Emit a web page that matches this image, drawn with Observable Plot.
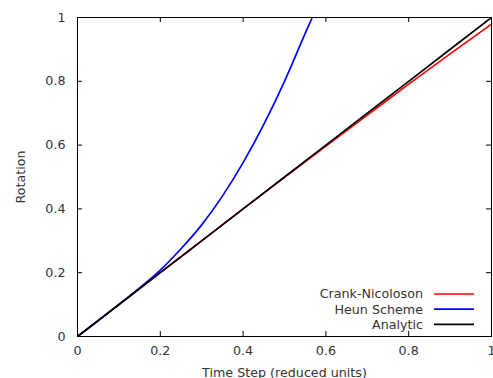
<!DOCTYPE html>
<html><head><meta charset="utf-8">
<script src="https://cdn.jsdelivr.net/npm/d3@7"></script>
<script src="https://cdn.jsdelivr.net/npm/@observablehq/plot@0.6"></script>
<style>body{margin:0;background:#fff} svg{display:block}</style>
</head><body><div id="chart"></div>
<script>
const series = ["Crank-Nicoloson", "Heun Scheme", "Analytic"];
const colors = ["#ff0000", "#0000ff", "#000000"];

const cnTime = [0, 0.1, 0.2, 0.3, 0.4, 0.5, 0.6, 0.7, 0.8, 0.9, 1.0];
const cnRot  = [0, 0.1, 0.2, 0.3, 0.4, 0.499, 0.597, 0.694, 0.791, 0.886, 0.979];

const heunTime = [0, 0.05, 0.1, 0.15, 0.2, 0.25, 0.3, 0.35, 0.4, 0.45, 0.5, 0.55, 0.567];
const heunRot  = [0, 0.05, 0.1005, 0.152, 0.208, 0.275, 0.35, 0.44, 0.545, 0.665, 0.8, 0.95, 1.0];

const anTime = [0, 0.2, 0.4, 0.6, 0.8, 1.0];
const anRot  = [0, 0.2, 0.4, 0.6, 0.8, 1.0];

const xTicks = [0, 0.2, 0.4, 0.6, 0.8, 1];
const yTicks = [0, 0.2, 0.4, 0.6, 0.8, 1];
const xTickLabels = ["0", "0.2", "0.4", "0.6", "0.8", "1"];
const yTickLabels = ["0", "0.2", "0.4", "0.6", "0.8", "1"];

const xLabel = "Time Step (reduced units)";
const yLabel = "Rotation";

const rows = [
  ...cnTime.map((t, i) => ({series: series[0], t, r: cnRot[i]})),
  ...heunTime.map((t, i) => ({series: series[1], t, r: heunRot[i]})),
  ...anTime.map((t, i) => ({series: series[2], t, r: anRot[i]}))
];

const W = 493, H = 378, mL = 77, mR = 2, mT = 17, mB = 42;
const innerH = H - mT - mB;
const innerW = W - mL - mR;
const font = "DejaVu Sans, sans-serif";
const fs = 12.7;
const textColor = "#333";

const plot = Plot.plot({
  width: W, height: H,
  marginLeft: mL, marginRight: mR, marginTop: mT, marginBottom: mB,
  style: {fontFamily: font, fontSize: fs + "px", color: textColor, background: "#fff", overflow: "visible"},
  x: {domain: [0, 1]},
  y: {domain: [0, 1]},
  color: {domain: series, range: colors},
  marks: [
    Plot.axisX({ticks: xTicks, tickFormat: d => xTickLabels[xTicks.indexOf(d)], tickSize: 0, tickPadding: 9, fontSize: fs, label: xLabel, labelAnchor: "center", labelOffset: 40, labelArrow: "none"}),
    Plot.axisY({ticks: yTicks, tickFormat: d => yTickLabels[yTicks.indexOf(d)], tickSize: 0, tickPadding: 12, fontSize: fs, label: yLabel, labelAnchor: "center", labelOffset: 62, labelArrow: "none"}),
    Plot.tickX(xTicks, {x: d => d, insetTop: innerH - 5, stroke: "#000"}),
    Plot.tickX(xTicks.slice(1, -1), {x: d => d, insetBottom: innerH - 5, stroke: "#000"}),
    Plot.tickY(yTicks, {y: d => d, insetRight: innerW - 5, stroke: "#000"}),
    Plot.tickY(yTicks.slice(1, -1), {y: d => d, insetLeft: innerW - 5, stroke: "#000"}),
    Plot.line(rows, {x: "t", y: "r", z: "series", stroke: "series", strokeWidth: 1.7, curve: "monotone-x", clip: true}),
    Plot.frame({stroke: "#000"})
  ]
});

const svg = d3.select(plot);
const leg = svg.append("g").attr("font-family", font).attr("font-size", fs);
const legY0 = 294, legDy = 15.2;
series.forEach((s, i) => {
  const y = legY0 + i * legDy;
  leg.append("text").attr("x", 423).attr("y", y).attr("dy", "0.35em")
    .attr("text-anchor", "end").attr("fill", textColor).text(s);
  leg.append("line").attr("x1", 434).attr("x2", 474).attr("y1", y).attr("y2", y)
    .attr("stroke", colors[i]).attr("stroke-width", 1.7);
});

document.getElementById("chart").appendChild(plot);
</script>
</body></html>
